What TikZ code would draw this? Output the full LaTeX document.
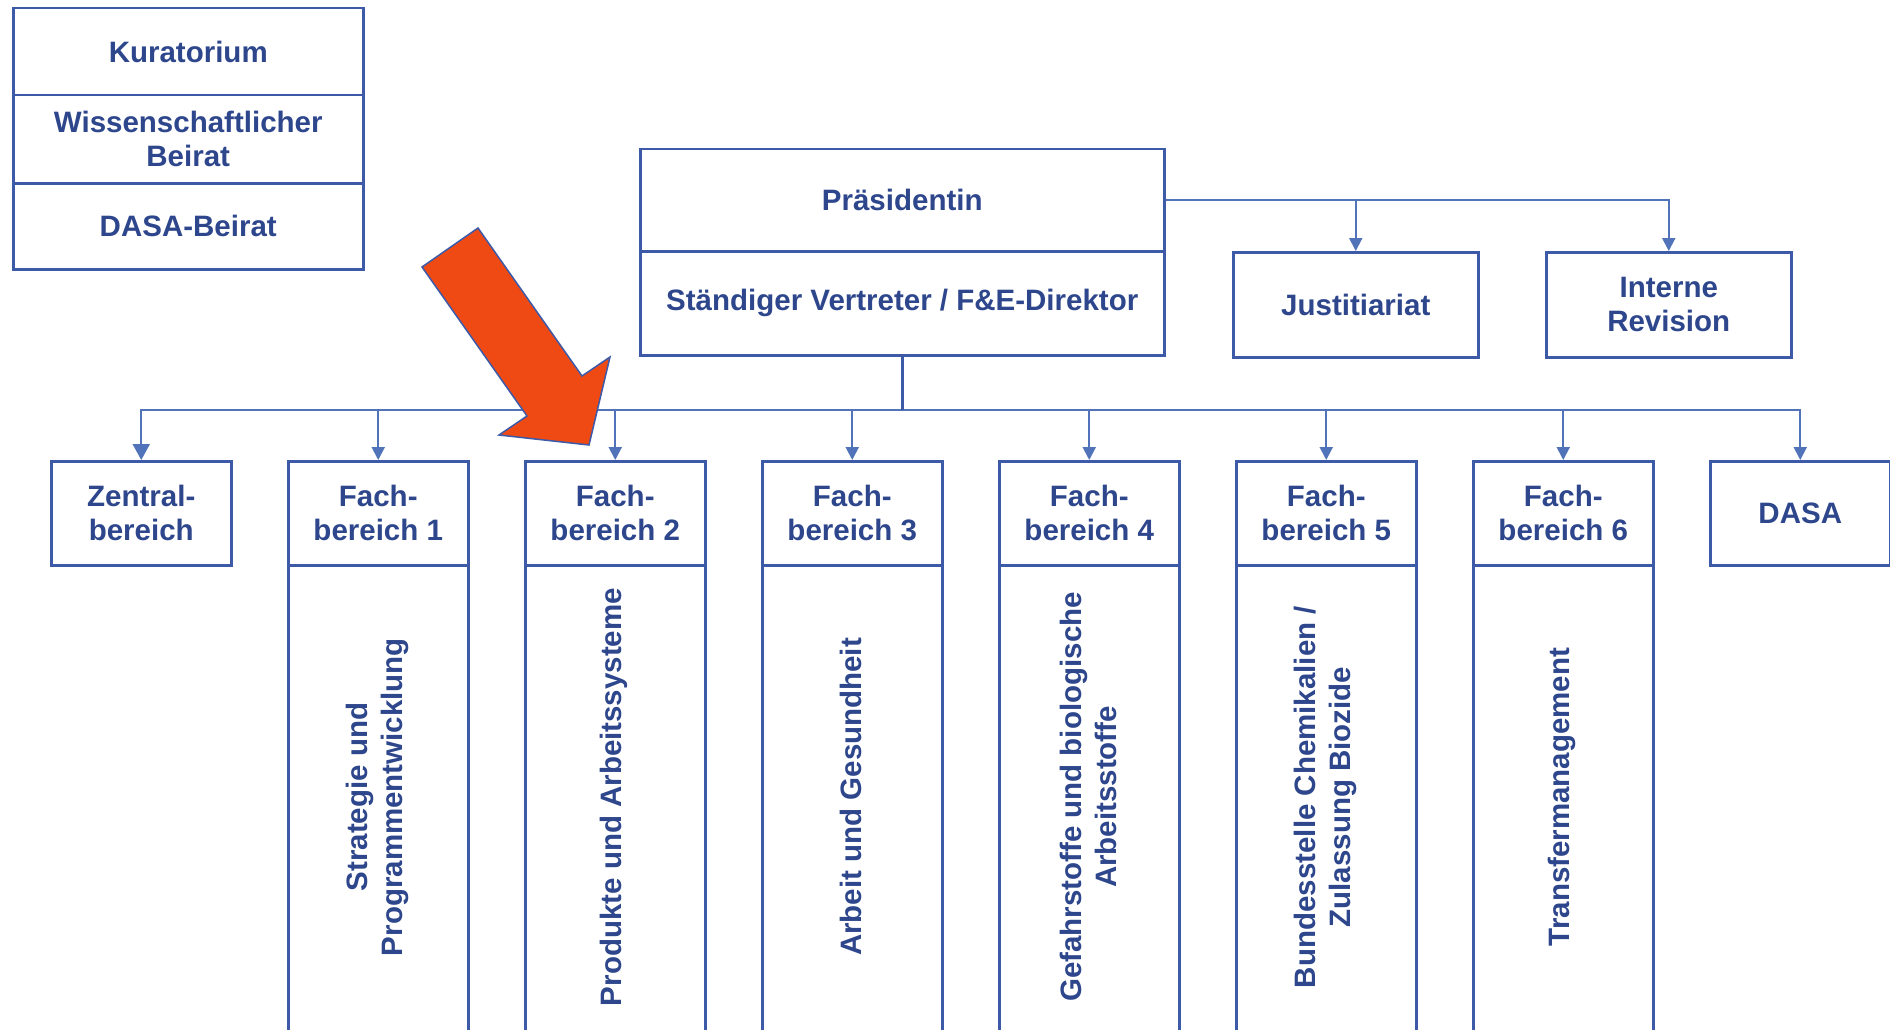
\documentclass[tikz,border=0pt]{standalone}
\usepackage{fontspec}
\setmainfont{Liberation Sans}
\usetikzlibrary{arrows.meta}
\definecolor{boxc}{RGB}{61,90,168}
\definecolor{txtc}{RGB}{45,70,140}
\definecolor{linec}{RGB}{80,115,185}
\definecolor{redc}{RGB}{240,74,20}
\tikzset{
  box/.style={draw=boxc, line width=2.5pt, fill=white, text=txtc, align=center,
    inner sep=0pt, anchor=north west,
    font=\bfseries\fontsize{29.5}{34}\selectfont},
  vtext/.style={rotate=90, text=txtc, align=center, inner sep=0pt,
    font=\bfseries\fontsize{29.5}{35}\selectfont},
  conn/.style={draw=linec, line width=2pt},
  arr/.style={conn, -{Triangle[length=13pt,width=13pt]}},
  bigarr/.style={conn, -{Triangle[length=16pt,width=17pt]}},
}
\begin{document}
\begin{tikzpicture}[x=1pt,y=-1pt]
\useasboundingbox (0,0) rectangle (1890,1030);
\clip (0,0) rectangle (1890,1030);
\fill[white] (0,0) rectangle (1890,1030);

% Left board stack
\node[box, minimum width=350pt, minimum height=87pt] (kur) at (12,7) {Kuratorium};
\node[box, minimum width=350pt, minimum height=88pt] (wb) at (12,94) {Wissenschaftlicher\\Beirat};
\node[box, minimum width=350pt, minimum height=86pt] (db) at (12,182) {DASA-Beirat};

% Presidency
\node[box, minimum width=524pt, minimum height=102pt] (pres) at (639,148) {Präsidentin};
\node[box, minimum width=524pt, minimum height=104pt] (stv) at (639,250) {Ständiger Vertreter / F\&E-Direktor};

% Staff units
\node[box, minimum width=245pt, minimum height=105pt] (just) at (1232,251) {Justitiariat};
\node[box, minimum width=245pt, minimum height=105pt] (irev) at (1545,251) {Interne\\Revision};

% Row of departments
\node[box, minimum width=180pt, minimum height=104pt] (zb) at (50,460) {Zentral-\\bereich};
\node[box, minimum width=180pt, minimum height=104pt] (fb1) at (287,460) {Fach-\\bereich 1};
\node[box, minimum width=180pt, minimum height=104pt] (fb2) at (524,460) {Fach-\\bereich 2};
\node[box, minimum width=180pt, minimum height=104pt] (fb3) at (761,460) {Fach-\\bereich 3};
\node[box, minimum width=180pt, minimum height=104pt] (fb4) at (998,460) {Fach-\\bereich 4};
\node[box, minimum width=180pt, minimum height=104pt] (fb5) at (1235,460) {Fach-\\bereich 5};
\node[box, minimum width=180pt, minimum height=104pt] (fb6) at (1472,460) {Fach-\\bereich 6};
\node[box, minimum width=180pt, minimum height=104pt] (dasa) at (1709,460) {DASA};

% Tall bodies
\foreach \n/\x in {b1/287,b2/524,b3/761,b4/998,b5/1235,b6/1472}{
  \node[box, minimum width=180pt, minimum height=480pt] (\n) at (\x,564) {};
}
\node[vtext] (t1) at (377,797) {Strategie und\\Programmentwicklung};
\node[vtext] (t2) at (614,797) {Produkte und Arbeitssysteme};
\node[vtext] (t3) at (851,797) {Arbeit und Gesundheit};
\node[vtext] (t4) at (1088,797) {Gefahrstoffe und biologische\\Arbeitsstoffe};
\node[vtext] (t5) at (1325,797) {Bundesstelle Chemikalien /\\Zulassung Biozide};
\node[vtext] (t6) at (1562,797) {Transfermanagement};

% Connectors from presidency to staff units
\draw[arr] (pres.east) -| (just.north);
\draw[arr] (pres.east) -| (irev.north);

% Connectors to departments
\draw[bigarr] (stv.south) -- ++(0,53) -| (zb.north);
\foreach \t in {fb1,fb2,fb3,fb4,fb5,fb6,dasa}{
  \draw[arr] (stv.south) -- ++(0,53) -| (\t.north);
}
\draw[draw=boxc, line width=3pt] (stv.south) -- ++(0,53);

% Red highlight arrow
\filldraw[fill=redc, draw=boxc, line width=1.5pt, line join=miter]
  (422,267) -- (478,228) -- (582,376) -- (610,357) -- (589,445) -- (499,435) -- (527,416) -- cycle;
\end{tikzpicture}
\end{document}
